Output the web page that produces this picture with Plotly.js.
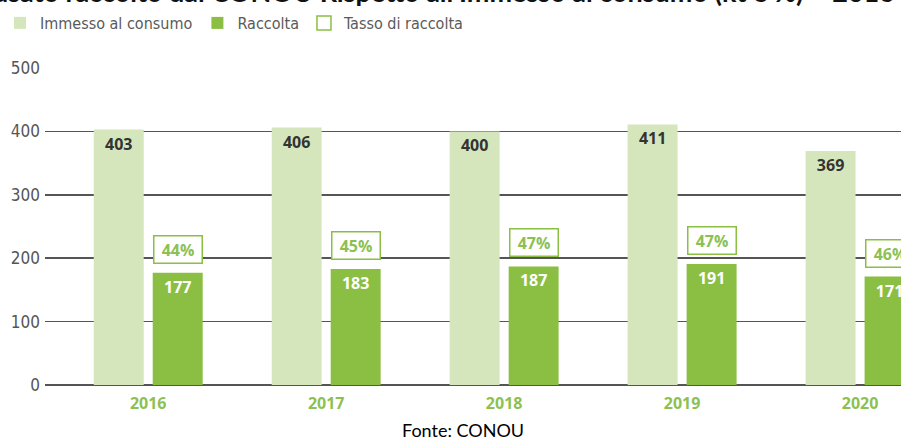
<!DOCTYPE html>
<html>
<head>
<meta charset="utf-8">
<script src="https://cdn.plot.ly/plotly-3.0.1.min.js"></script>
<style>html,body{margin:0;padding:0;background:#fff;}#chart{width:901px;height:439px;}</style>
</head>
<body>
<div id="chart"></div>
<script>
const years = ["2016", "2017", "2018", "2019", "2020"];
const immesso = [403, 406, 400, 411, 369];
const raccolta = [177, 183, 187, 191, 171];
const tasso = [44, 45, 47, 47, 46];
const yTicks = [0, 100, 200, 300, 400, 500];

const lightGreen = "#d5e6bd";
const darkGreen = "#8bbf44";
const textGreen = "#8cc152";
const legendFont = {family: "Liberation Sans Narrow, DejaVu Sans Condensed, Roboto, sans-serif", size: 16, color: "#5a5a5a"};

const traces = [
  {
    type: "bar", name: "Immesso al consumo", x: years, y: immesso,
    marker: {color: lightGreen},
    text: immesso.map(String), textposition: "inside", insidetextanchor: "end",
    textfont: {family: "Open Sans, sans-serif", size: 16, color: "#333", weight: "bold"},
    constraintext: "none", hoverinfo: "skip"
  },
  {
    type: "bar", name: "Raccolta", x: years, y: raccolta,
    marker: {color: darkGreen},
    text: raccolta.map(String), textposition: "inside", insidetextanchor: "end",
    textfont: {family: "Open Sans, sans-serif", size: 16, color: "#ffffff", weight: "bold"},
    constraintext: "none", hoverinfo: "skip"
  },
  {
    type: "scatter", mode: "markers", name: "Tasso di raccolta", x: [years[0]], y: [null],
    marker: {symbol: "square", size: 14, color: "#ffffff", line: {color: darkGreen, width: 1.5}},
    hoverinfo: "skip"
  }
];

const annotations = years.map((yr, i) => ({
  x: i, y: raccolta[i], xref: "x", yref: "y",
  xshift: 29.5, yshift: 9, yanchor: "bottom", xanchor: "center",
  text: "<b>" + tasso[i] + "%</b>", showarrow: false,
  font: {family: "Open Sans, sans-serif", size: 16, color: textGreen},
  bgcolor: "#ffffff", bordercolor: darkGreen, borderwidth: 1.5,
  width: 45, height: 24, borderpad: 1
}));

const plotL = 45, plotR = 0, plotT = 68, plotB = 54;
const pw = 901 - plotL - plotR, ph = 439 - plotT - plotB;
annotations.push({
  x: (463 - plotL) / pw, xref: "paper", y: -(430 - (439 - plotB)) / ph, yref: "paper",
  xanchor: "center", yanchor: "middle",
  text: "Fonte: CONOU", showarrow: false,
  font: {family: "Lato, Carlito, sans-serif", size: 18, color: "#000"}
});

const layout = {
  width: 901, height: 439,
  margin: {l: plotL, r: plotR, t: plotT, b: plotB},
  paper_bgcolor: "#fff", plot_bgcolor: "#fff",
  title: {
    text: "<b>usato raccolto dal CONOU Rispetto all'Immesso al consumo (kt e %) – 2016-2020</b>",
    x: 0.533, xanchor: "center", xref: "container",
    y: 1, yanchor: "bottom", yref: "paper",
    pad: {b: plotT - 2},
    automargin: false,
    font: {family: "Lato, Carlito, sans-serif", size: 27, color: "#111"}
  },
  barmode: "group", bargap: 0.337, bargroupgap: 0.153,
  showlegend: true,
  legend: {
    orientation: "h", x: -0.053, xanchor: "left", y: 1 + (68 - 23) / ph, yanchor: "middle",
    font: legendFont, itemwidth: 30, traceorder: "normal", bgcolor: "rgba(0,0,0,0)"
  },
  xaxis: {
    type: "category", range: [-0.58, 4.23],
    showgrid: false, showline: false, zeroline: false, ticks: "",
    ticklabelstandoff: 7,
    tickfont: {family: "Open Sans, sans-serif", size: 16, color: textGreen, weight: "bold"}
  },
  yaxis: {
    range: [0, 500], tickvals: yTicks, ticktext: yTicks.map(String),
    showgrid: true, gridcolor: "#555", gridwidth: 1.5,
    zeroline: true, zerolinecolor: "#555", zerolinewidth: 1.5,
    showline: false, ticks: "", ticklabelstandoff: 4,
    tickfont: {family: "Liberation Sans Narrow, DejaVu Sans Condensed, Roboto, sans-serif", size: 17, color: "#555"}
  },
  annotations: annotations
};

Plotly.newPlot("chart", traces, layout, {displayModeBar: false, staticPlot: true});
</script>
</body>
</html>
